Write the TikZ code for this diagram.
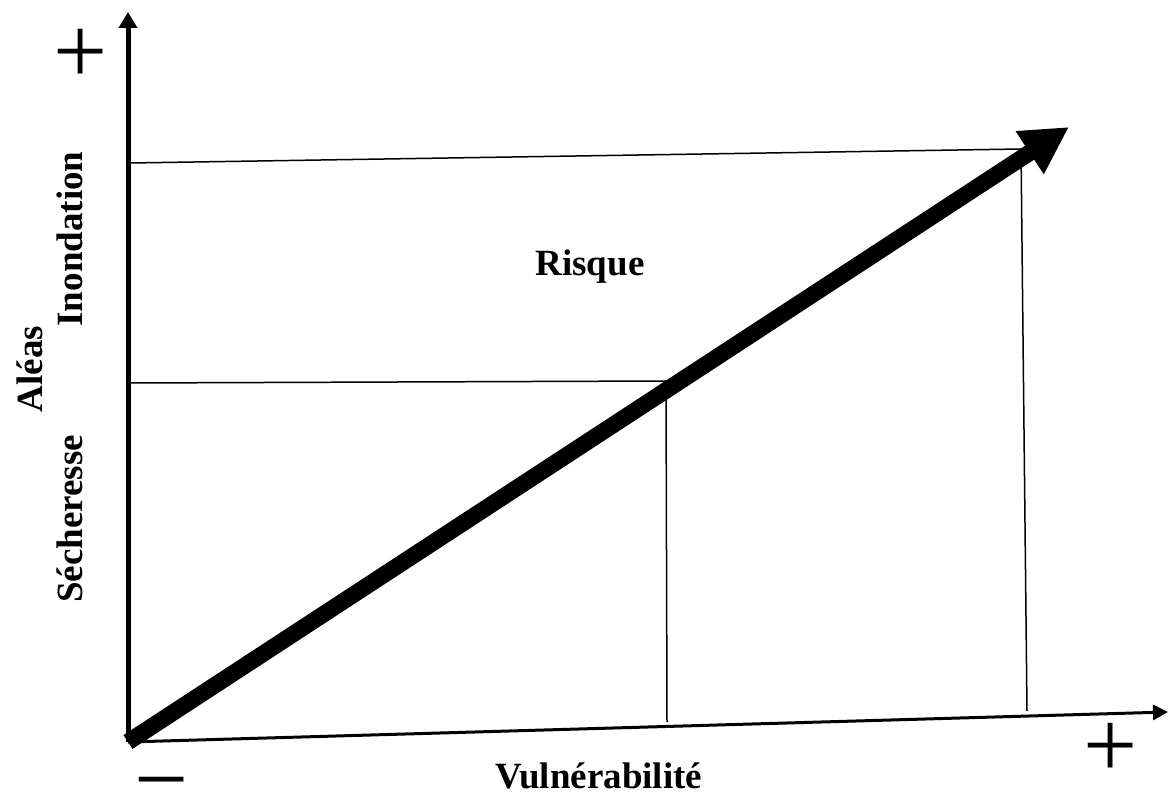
\documentclass[tikz,border=0pt]{standalone}
\usepackage{fontspec}
\setmainfont{Liberation Serif}
\setsansfont{Liberation Sans}
\usetikzlibrary{arrows.meta}
\begin{document}
\begin{tikzpicture}[x=1pt,y=-1pt,
  lbl/.style={inner sep=0pt,anchor=base,font=\bfseries\fontsize{37}{40}\selectfont},
  sign/.style={inner sep=0pt,anchor=center,font=\fontsize{96}{100}\selectfont},
  thin/.style={line width=1.5pt},
  axis/.style={line width=5pt}]
\useasboundingbox (0,0) rectangle (1168,794);
% coordinates
\coordinate (O) at (128,742);
\coordinate (Ytop) at (128,12);
\coordinate (Xend) at (1168,712);
\coordinate (Rtip) at (1069,127);
\coordinate (A1) at (130,163);
\coordinate (A2) at (1021,149);
\coordinate (A3) at (1027,711);
\coordinate (B1) at (130,383);
\coordinate (B2) at (666,381);
\coordinate (B3) at (667,722);
% axes
\draw[axis,-{Triangle[length=16pt,width=18pt]}] (O) -- (Ytop);
\draw[line width=3pt,-{Triangle[length=15pt,width=15pt]}] (O) -- (Xend);
% thin lines
\draw[thin] (A1) -- (A2) -- (A3);
\draw[thin] (B1) -- (B2) -- (B3);
% risk arrow
\draw[line width=16.5pt,-{Triangle[length=47pt,width=48pt]}] (O) -- (Rtip);
% labels
\node[lbl] (risque) at (590,276) {Risque};
\node[lbl,text depth=0pt] (vuln) at (599,788) {Vulnérabilité};
\node[lbl,rotate=90] (inond) at (82,239) {Inondation};
\node[lbl,rotate=90] (aleas) at (42,369) {Aléas};
\node[lbl,rotate=90] (sech) at (82,519) {Sécheresse};
\node[sign] (ptop) at (81,57) {\raisebox{-0.28em}[0.25em][0.25em]{+}};
\node[sign] (pright) at (1111,751) {\raisebox{-0.28em}[0.25em][0.25em]{+}};
\node[sign] (minus) at (161.5,777) {\raisebox{-0.355em}[0.03em][0.03em]{−}};
\end{tikzpicture}
\end{document}
